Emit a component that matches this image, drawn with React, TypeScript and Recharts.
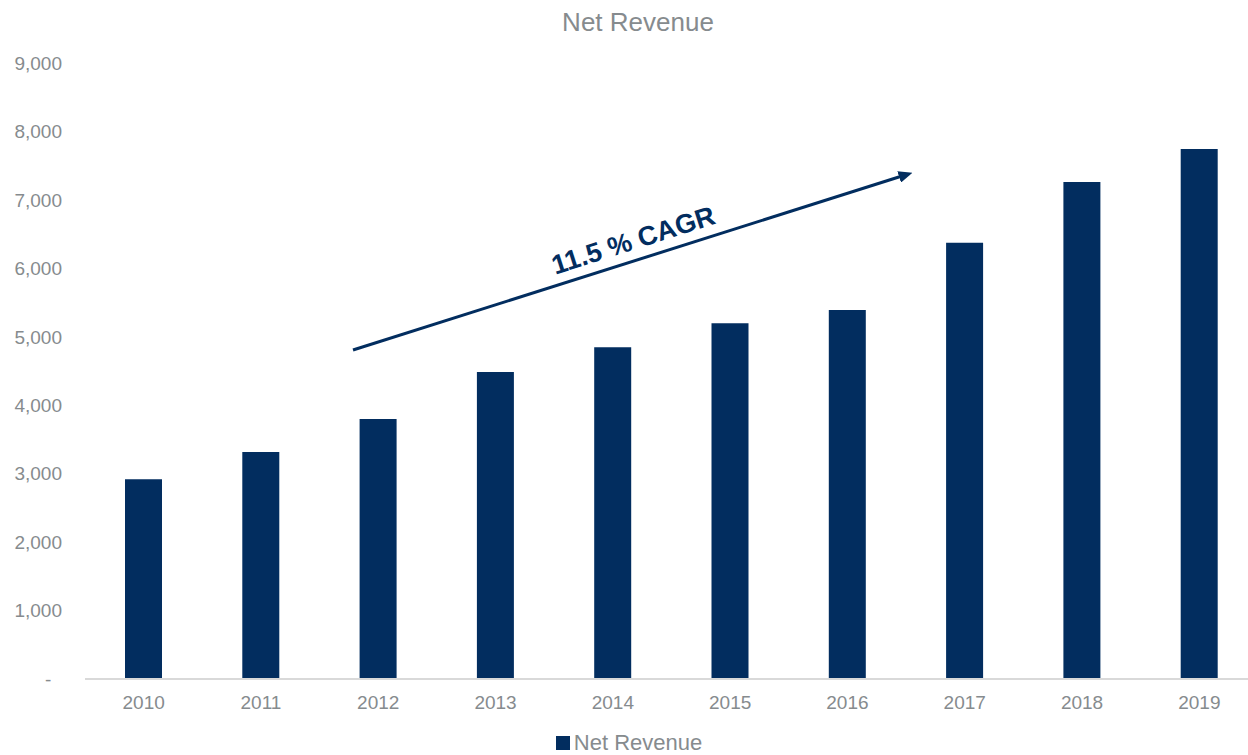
import React from 'react';
import { BarChart, Bar, XAxis, YAxis, Legend } from 'recharts';

const years = ['2010', '2011', '2012', '2013', '2014', '2015', '2016', '2017', '2018', '2019'];
const netRevenue = [2918, 3317, 3799, 4486, 4847, 5197, 5392, 6375, 7262, 7744];
const yTicks = [0, 1000, 2000, 3000, 4000, 5000, 6000, 7000, 8000, 9000];
const seriesName = 'Net Revenue';
const titleText = 'Net Revenue';
const cagrText = '11.5 % CAGR';

const data = years.map((y, i) => ({ year: y, value: netRevenue[i] }));

const NAVY = '#022D5F';
const GRAY = '#868B8E';
const FONT = 'Liberation Sans, Arial, sans-serif';

const fmt = (v: number) => (v === 0 ? '-\u00a0\u00a0' : v.toLocaleString('en-US'));

const LegendContent = () => (
  <div style={{ display: 'flex', justifyContent: 'center', alignItems: 'center', height: 30, fontFamily: FONT, fontSize: 22, lineHeight: '24px', color: GRAY, paddingTop: 6, boxSizing: 'border-box' }}>
    <span style={{ display: 'inline-block', width: 14, height: 14, background: NAVY, marginRight: 4 }} />
    <span>{seriesName}</span>
  </div>
);

export default function App() {
  const angle = (Math.atan2(172 - 350, 913 - 353) * 180) / Math.PI;
  return (
    <div style={{ position: 'absolute', left: 0, top: 0, width: 1248, height: 755, overflow: 'hidden', background: '#fff' }}>
      <BarChart width={1270} height={755} data={data} margin={{ top: 63, right: 12, left: 0, bottom: 0 }}>
        <XAxis
          dataKey="year"
          axisLine={{ stroke: '#D9D9D9', strokeWidth: 2 }}
          tickLine={false}
          tickSize={0}
          tickMargin={17}
          height={46}
          tick={{ fill: GRAY, fontSize: 19, fontFamily: FONT }}
        />
        <YAxis
          domain={[0, 9000]}
          ticks={yTicks}
          tickFormatter={fmt}
          axisLine={false}
          tickLine={false}
          tickSize={0}
          tickMargin={23}
          width={85}
          interval={0}
          tick={{ fill: GRAY, fontSize: 19, fontFamily: FONT }}
        />
        <Legend verticalAlign="bottom" height={30} content={<LegendContent />} />
        <Bar dataKey="value" name={seriesName} fill={NAVY} barSize={37} isAnimationActive={false} />
      </BarChart>
      <svg width={1248} height={755} style={{ position: 'absolute', left: 0, top: 0, pointerEvents: 'none' }}>
        <defs>
          <marker id="ah" markerWidth="14" markerHeight="12" refX="3" refY="6" orient="auto" markerUnits="userSpaceOnUse">
            <path d="M0,0 L14,6 L0,12 Z" fill={NAVY} />
          </marker>
        </defs>
        <text x={638} y={31} textAnchor="middle" fontFamily={FONT} fontSize={26} fill={GRAY}>{titleText}</text>
        <line x1={353} y1={350} x2={902} y2={176} stroke={NAVY} strokeWidth={3} markerEnd="url(#ah)" />
        <text
          x={636}
          y={249}
          textAnchor="middle"
          fontFamily={FONT}
          fontWeight="bold"
          fontSize={27}
          fill={NAVY}
          transform={`rotate(${angle} 636 249)`}
        >
          {cagrText}
        </text>
      </svg>
    </div>
  );
}
